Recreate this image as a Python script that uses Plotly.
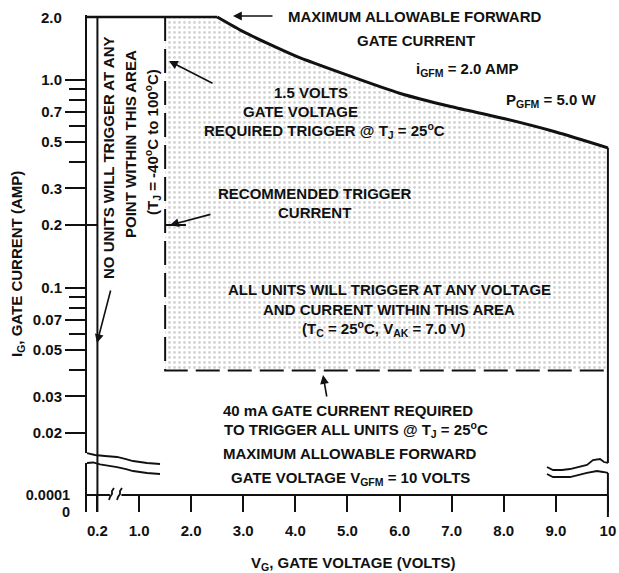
import math
import plotly.graph_objects as go

# ---------------- data ----------------
x_tick_vals = [0.2, 1, 2, 3, 4, 5, 6, 7, 8, 9, 10]
x_tick_text = ["0.2", "1.0", "2.0", "3.0", "4.0", "5.0", "6.0", "7.0", "8.0", "9.0", "10"]
y_major_vals = [1.0, 0.7, 0.5, 0.3, 0.2, 0.1, 0.07, 0.05, 0.03, 0.02]
y_major_text = ["1.0", "0.7", "0.5", "0.3", "0.2", "0.1", "0.07", "0.05", "0.03", "0.02"]
y_minor_vals = [0.9, 0.8, 0.6, 0.4, 0.09, 0.08, 0.06, 0.04]
y_top_value = 2.0
y_top_text = "2.0"
y_low_vals = [0, 0.0001]
y_low_text = ["0", "0.0001"]

max_gate_current = 2.0            # IGFM (A)
max_current_v = [0.0, 2.5]        # flat part of the limit
power_curve_v = [2.5, 3.0, 3.5, 4.0, 5.0, 6.0, 7.0, 8.0, 9.0, 10.0]
power_curve_i = [2.0, 1.7, 1.48, 1.3, 1.05, 0.86, 0.74, 0.65, 0.56, 0.47]
trigger_v = 1.5                   # gate voltage required
trigger_i = 0.04                  # 40 mA
recommended_i = 0.2
recommended_v = [1.5, 1.9]
no_trigger_v = 0.2
max_gate_v = 10.0
axis_low_value = 0.0001

# ---------------- geometry helpers (screen pixels -> paper) ----------------
W, H = 619, 573
L, R, T, B = 87, 9, 15, 61
PW, PH = W - L - R, H - T - B


def px(x):
    return (x - L) / PW


def py(y):
    return (H - B - y) / PH


FONT = "Liberation Sans, Arial, sans-serif"
BLK = "#111111"

fig = go.Figure()

# shaded trigger area
fig.add_trace(go.Scatter(x=[trigger_v, max_gate_v], y=[trigger_i, trigger_i],
                         mode="lines", line=dict(width=0), hoverinfo="skip",
                         showlegend=False, xaxis="x", yaxis="y"))
fig.add_trace(go.Scatter(x=[trigger_v] + power_curve_v, y=[max_gate_current] + power_curve_i,
                         mode="lines", line=dict(width=0), fill="tonexty",
                         fillcolor="rgba(0,0,0,0.035)",
                         fillpattern=dict(shape=".", size=5, solidity=0.25,
                                          fgcolor="#a8a8a8", bgcolor="rgba(0,0,0,0)"),
                         hoverinfo="skip", showlegend=False, xaxis="x", yaxis="y"))
# maximum current flat line
fig.add_trace(go.Scatter(x=max_current_v, y=[max_gate_current] * 2, mode="lines",
                         line=dict(color=BLK, width=2.5), showlegend=False, hoverinfo="skip"))
# power limit curve
fig.add_trace(go.Scatter(x=power_curve_v, y=power_curve_i, mode="lines",
                         line=dict(color=BLK, width=3, shape="spline", smoothing=0.6),
                         showlegend=False, hoverinfo="skip"))
# right boundary (max gate voltage)
fig.add_trace(go.Scatter(x=[max_gate_v, max_gate_v], y=[power_curve_i[-1], 0.015],
                         mode="lines", line=dict(color=BLK, width=2),
                         showlegend=False, hoverinfo="skip"))
# dashed trigger boundary
fig.add_trace(go.Scatter(x=[trigger_v, trigger_v, max_gate_v],
                         y=[max_gate_current, trigger_i, trigger_i], mode="lines",
                         line=dict(color=BLK, width=2, dash="24px,8px"),
                         showlegend=False, hoverinfo="skip"))
# recommended trigger current mark
fig.add_trace(go.Scatter(x=recommended_v, y=[recommended_i] * 2, mode="lines",
                         line=dict(color=BLK, width=2), showlegend=False, hoverinfo="skip"))
fig.add_trace(go.Scatter(x=[0, no_trigger_v], y=[recommended_i] * 2, mode="lines",
                         line=dict(color=BLK, width=2), showlegend=False, hoverinfo="skip"))
# x axis line (with break) on lower axis
fig.add_trace(go.Scatter(x=[0, 0.44], y=[axis_low_value] * 2, mode="lines",
                         line=dict(color=BLK, width=2), showlegend=False,
                         hoverinfo="skip", xaxis="x", yaxis="y2"))
fig.add_trace(go.Scatter(x=[0.66, max_gate_v], y=[axis_low_value] * 2, mode="lines",
                         line=dict(color=BLK, width=2), showlegend=False,
                         hoverinfo="skip", xaxis="x", yaxis="y2"))

shapes = []
# 0.2 V line through whole height
shapes.append(dict(type="line", xref="x", yref="paper", x0=no_trigger_v, x1=no_trigger_v,
                   y0=0, y1=py(16), line=dict(color=BLK, width=2)))
# right boundary through break
shapes.append(dict(type="line", xref="x", yref="paper", x0=max_gate_v, x1=max_gate_v,
                   y0=py(452), y1=py(463), line=dict(color=BLK, width=2)))
shapes.append(dict(type="line", xref="x", yref="paper", x0=max_gate_v, x1=max_gate_v,
                   y0=py(473), y1=py(517), line=dict(color=BLK, width=2)))


def path(pts):
    s = "M {:.4f},{:.4f}".format(px(pts[0][0]), py(pts[0][1]))
    for (a, b) in pts[1:]:
        s += " L {:.4f},{:.4f}".format(px(a), py(b))
    return s


wiggles = [
    [(87, 453), (95, 455), (105, 456), (117, 457), (126, 459), (133, 461), (147, 463), (160, 464)],
    [(87, 463), (93, 462.5), (100, 464.5), (117, 467), (126, 469), (133, 471), (147, 473), (160, 474)],
    [(547, 467), (553, 470), (562, 470), (570, 469), (587, 465), (593, 460), (600, 459), (604, 462), (608, 463)],
    [(547, 474), (553, 477), (562, 477), (570, 477), (587, 473), (597, 471), (603, 472), (608, 473)],
    [(109, 500), (110, 497), (112, 494), (112, 491), (114, 488)],
    [(117, 500), (118, 497), (120, 494), (120, 491), (122, 488)],
]
for wpts in wiggles:
    shapes.append(dict(type="path", xref="paper", yref="paper", path=path(wpts),
                       line=dict(color=BLK, width=1.8)))

ann = []


def text(x, y, s, size=15, angle=0, xanchor="center"):
    ann.append(dict(x=px(x), y=py(y), xref="paper", yref="paper", text=s, showarrow=False,
                    font=dict(family=FONT, size=size, color=BLK, weight="bold"),
                    textangle=angle, xanchor=xanchor, yanchor="middle"))


def arrow(tx, ty, hx, hy):
    ann.append(dict(x=px(hx), y=py(hy), xref="paper", yref="paper", text="", showarrow=True,
                    ax=tx - hx, ay=ty - hy, arrowhead=2, arrowsize=1.1, arrowwidth=1.6,
                    arrowcolor=BLK))


text(414, 16, "MAXIMUM ALLOWABLE FORWARD")
text(416, 40, "GATE CURRENT")
arrow(274, 16, 233, 16)
text(467, 70, "i<sub>GFM</sub> = 2.0 AMP")
text(551, 100, "P<sub>GFM</sub> = 5.0 W")
text(311, 92, "1.5 VOLTS")
text(300, 111, "GATE VOLTAGE")
text(324, 130, "REQUIRED TRIGGER @ T<sub>J</sub> = 25<sup>o</sup>C")
arrow(214, 84, 169, 61)
text(315, 193, "RECOMMENDED TRIGGER")
text(314, 213, "CURRENT")
arrow(212, 214, 170, 225)
text(389, 289, "ALL UNITS WILL TRIGGER AT ANY VOLTAGE")
text(389, 309, "AND CURRENT WITHIN THIS AREA")
text(383, 329, "(T<sub>C</sub> = 25<sup>o</sup>C, V<sub>AK</sub> = 7.0 V)")
arrow(327, 398, 323, 375)
text(348, 410, "40 mA GATE CURRENT REQUIRED")
text(356, 429, "TO TRIGGER ALL UNITS @ T<sub>J</sub> = 25<sup>o</sup>C")
text(349, 453, "MAXIMUM ALLOWABLE FORWARD")
text(350, 478, "GATE VOLTAGE V<sub>GFM</sub> = 10 VOLTS")
text(108, 158, "NO UNITS WILL TRIGGER AT ANY", angle=-90)
text(130, 144, "POINT WITHIN THIS AREA", angle=-90)
text(152, 142, "(T<sub>J</sub> = -40<sup>o</sup>C to 100<sup>o</sup>C)", angle=-90)
arrow(111, 289, 97, 343)
# axis titles
text(353, 563, "V<sub>G</sub>, GATE VOLTAGE (VOLTS)")
text(17, 264, "I<sub>G</sub>, GATE CURRENT (AMP)", angle=-90)
# top tick label of the log axis
ann.append(dict(x=px(64), y=math.log10(y_top_value), xref="paper", yref="y", text=y_top_text,
                showarrow=False, xanchor="right", yanchor="middle",
                font=dict(family=FONT, size=15, color=BLK, weight="bold")))

main_bottom = 453
main_dom0 = py(main_bottom)
log_top = math.log10(2.0) + 2 / 208
log_bot = math.log10(2.0) - (main_bottom - 17) / 208

tick_font = dict(size=15, family=FONT, color=BLK, weight="bold")
fig.update_layout(
    width=W, height=H, margin=dict(l=L, r=R, t=T, b=B),
    paper_bgcolor="white", plot_bgcolor="rgba(0,0,0,0)",
    font=dict(family=FONT, color=BLK),
    showlegend=False, hovermode=False,
    xaxis=dict(domain=[0, 1], range=[0, 10.04], anchor="free", position=py(495),
               showline=False, showgrid=False, zeroline=False, automargin=False,
               ticks="outside", ticklen=16, tickwidth=2, tickcolor=BLK,
               tickmode="array", tickvals=x_tick_vals, ticktext=x_tick_text,
               tickfont=tick_font, ticklabelstandoff=6),
    yaxis=dict(type="log", domain=[main_dom0, 1], range=[log_bot, log_top], anchor="x",
               showline=True, linewidth=2, linecolor=BLK, showgrid=False, zeroline=False,
               automargin=False,
               ticks="outside", ticklen=20, tickwidth=2, tickcolor=BLK,
               tickmode="array", tickvals=y_major_vals, ticktext=y_major_text,
               tickfont=tick_font,
               minor=dict(tickmode="array", tickvals=y_minor_vals, ticks="outside",
                          ticklen=16, tickwidth=2, tickcolor=BLK, showgrid=False)),
    yaxis2=dict(domain=[0, py(463)], range=[0, axis_low_value * 49 / 17], anchor="x",
                showline=True, linewidth=2, linecolor=BLK, showgrid=False, zeroline=False,
                automargin=False,
                ticks="outside", ticklen=12, tickcolor="rgba(0,0,0,0)",
                tickmode="array", tickvals=y_low_vals, ticktext=y_low_text,
                tickfont=dict(size=14.5, family=FONT, color=BLK, weight="bold")),
    shapes=shapes, annotations=ann,
)

# remove the default page margin so the 619x573 figure fills the window exactly
fig.write_html("out.html", config={"displayModeBar": False, "staticPlot": True},
               post_script="document.body.style.margin='0';document.body.style.overflow='hidden';")
